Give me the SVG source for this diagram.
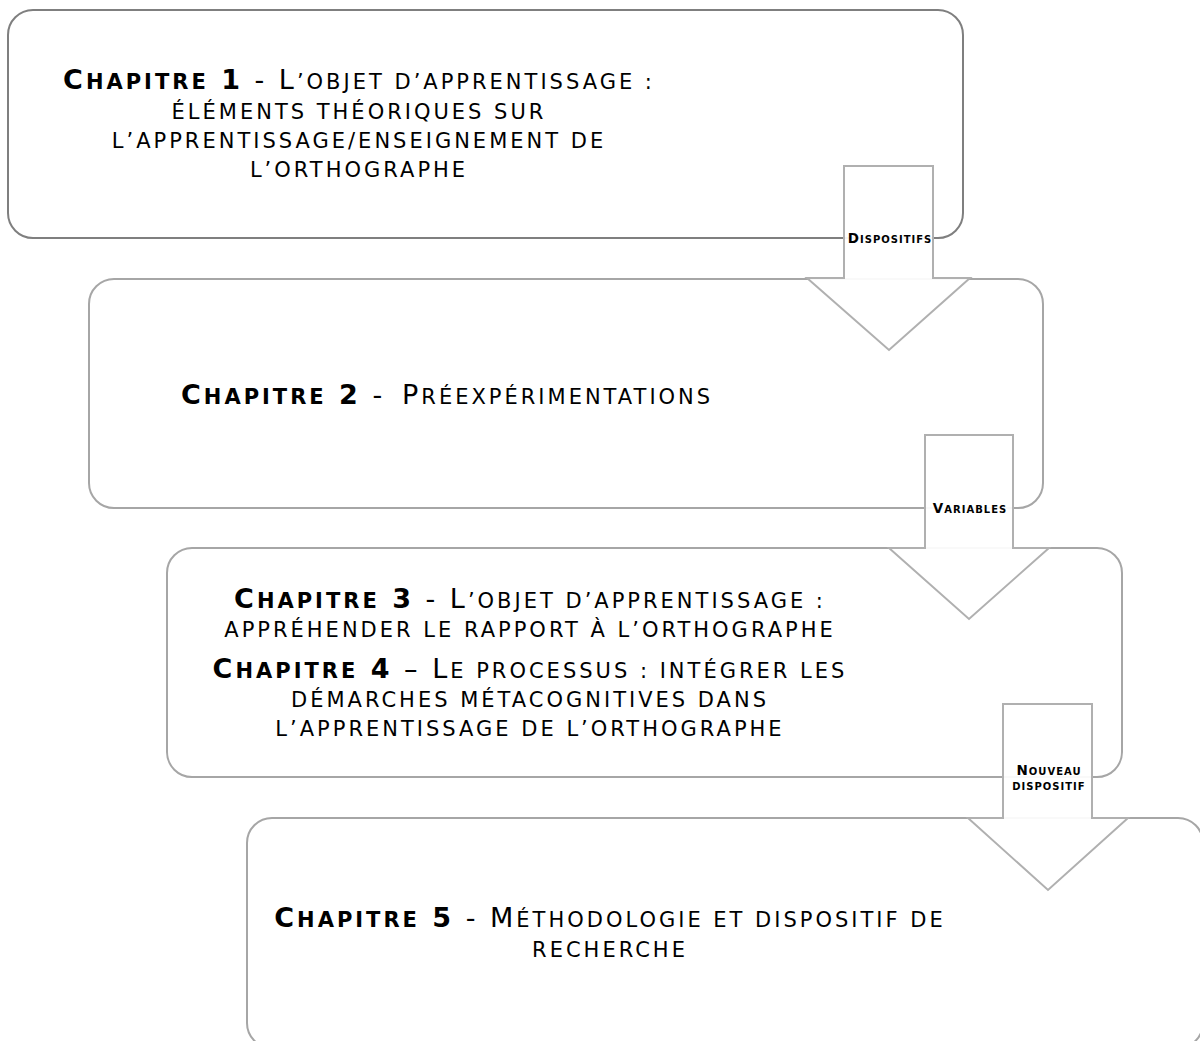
<svg xmlns="http://www.w3.org/2000/svg" width="1200" height="1041" viewBox="0 0 1200 1041">
<style>
.box{fill:#fff;stroke:#a6a6a6;stroke-width:2}
.box1{stroke:#7f7f7f}
.arrow{fill:#fff;fill-opacity:0.93;stroke:#b0b0b0;stroke-width:2}
.t{font-family:'DejaVu Sans',Verdana,sans-serif;letter-spacing:3px;fill:#000;text-anchor:middle}
.b{font-weight:bold}
.F{font-size:27px}
.s{font-size:21px}
.lab{font-family:'DejaVu Sans',Verdana,sans-serif;font-weight:bold;letter-spacing:1px;fill:#000;text-anchor:middle}
.LF{font-size:13.5px}
.ls{font-size:10px}
</style>
<rect width="1200" height="1041" fill="#fff"/>
<g id="chapitre1">
<rect class="box box1" x="8" y="10" width="955" height="228" rx="25"/>
<text class="t s" x="359" y="89"><tspan class="b F">C</tspan><tspan class="b">HAPITRE</tspan><tspan class="b F"> 1</tspan><tspan class="F"> - L</tspan>’OBJET D’APPRENTISSAGE :</text>
<text class="t s" x="359" y="119">ÉLÉMENTS THÉORIQUES SUR</text>
<text class="t s" x="359" y="148">L’APPRENTISSAGE/ENSEIGNEMENT DE</text>
<text class="t s" x="359" y="177">L’ORTHOGRAPHE</text>
</g>
<g id="chapitre2">
<rect class="box" x="89" y="279" width="954" height="229" rx="25"/>
<text class="t s" x="181" y="404" style="text-anchor:start"><tspan class="b F">C</tspan><tspan class="b">HAPITRE</tspan><tspan class="b F"> 2</tspan><tspan class="F"> -</tspan><tspan class="F" x="402">P</tspan>RÉEXPÉRIMENTATIONS</text>
</g>
<g id="chapitre3-4">
<rect class="box" x="167" y="548" width="955" height="229" rx="25"/>
<text class="t s" x="530" y="608"><tspan class="b F">C</tspan><tspan class="b">HAPITRE</tspan><tspan class="b F"> 3</tspan><tspan class="F"> - L</tspan>’OBJET D’APPRENTISSAGE :</text>
<text class="t s" x="530" y="637">APPRÉHENDER LE RAPPORT À L’ORTHOGRAPHE</text>
<text class="t s" x="530" y="678"><tspan class="b F">C</tspan><tspan class="b">HAPITRE</tspan><tspan class="b F"> 4</tspan><tspan class="F"> – L</tspan>E PROCESSUS : INTÉGRER LES</text>
<text class="t s" x="530" y="707">DÉMARCHES MÉTACOGNITIVES DANS</text>
<text class="t s" x="530" y="736">L’APPRENTISSAGE DE L’ORTHOGRAPHE</text>
</g>
<g id="chapitre5">
<rect class="box" x="247" y="818" width="956" height="230" rx="25"/>
<text class="t s" x="610" y="927"><tspan class="b F">C</tspan><tspan class="b">HAPITRE</tspan><tspan class="b F"> 5</tspan><tspan class="F"> - M</tspan>ÉTHODOLOGIE ET DISPOSITIF DE</text>
<text class="t s" x="610" y="957">RECHERCHE</text>
</g>
<g id="connectors">
<g id="arrow-dispositifs">
<path class="arrow" d="M844,166 H933 V278 H970 L889,350 L807,278 H844 Z"/>
<text class="lab ls" x="890" y="243"><tspan class="LF">D</tspan>ISPOSITIFS</text>
</g>
<g id="arrow-variables">
<path class="arrow" d="M925,435 H1013 V548 H1049 L969,619 L889,548 H925 Z"/>
<text class="lab ls" x="970" y="513"><tspan class="LF">V</tspan>ARIABLES</text>
</g>
<g id="arrow-nouveau-dispositif">
<path class="arrow" d="M1003,704 H1092 V818 H1128 L1048,890 L968,818 H1003 Z"/>
<text class="lab ls" x="1049" y="775"><tspan class="LF">N</tspan>OUVEAU</text>
<text class="lab ls" x="1049" y="790">DISPOSITIF</text>
</g>
</g>
</svg>
